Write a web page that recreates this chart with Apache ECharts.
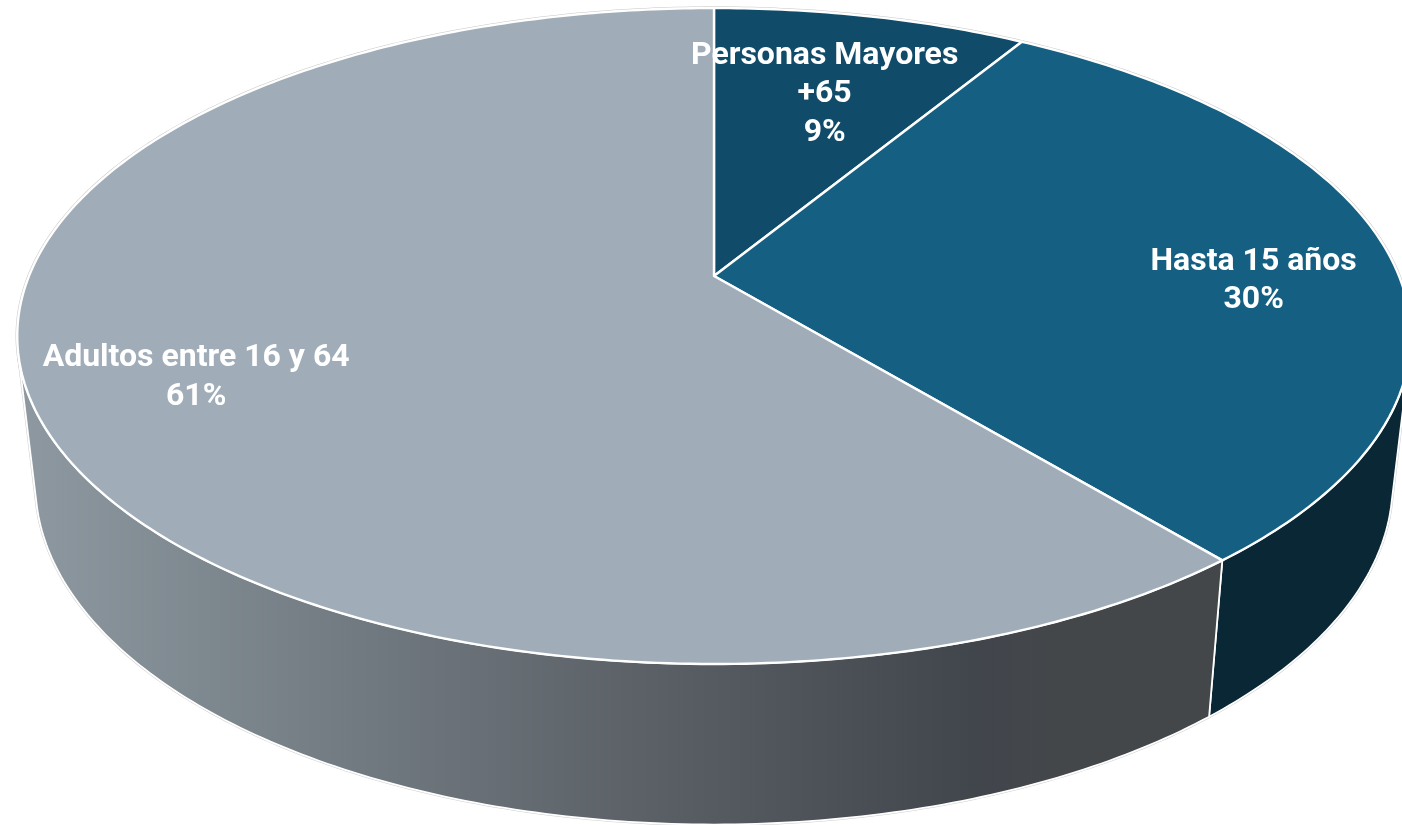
<!DOCTYPE html>
<html><head><meta charset="utf-8">
<style>html,body{margin:0;padding:0;background:#fff}#c{width:1402px;height:825px}</style>
<script src="https://cdn.jsdelivr.net/npm/echarts@6/dist/echarts.min.js"></script>
</head><body><div id="c"></div>
<script>
const categories = ['Personas Mayores\n+65', 'Hasta 15 años', 'Adultos entre 16 y 64'];
const values = [8.7, 30.3, 61];
const percentLabels = ['9%', '30%', '61%'];
const topColors = ['#104c69', '#156082', '#a0adb8'];
const labelRadial = [0.669, 0.786, 0.775];
const labelTurn = [0, 5.1, -3];

// perspective view of the pie
const view = {cx: 714, cy: 276, a: 685, b: 317, k: 0.183, sx: 0.974, sy: 1.04, drop: 145};
const rad = d => d * Math.PI / 180;
function rim(deg, r) {
  r = r === undefined ? 1 : r;
  const u = r * Math.sin(rad(deg)), v = -r * Math.cos(rad(deg));
  const w = 1 - view.k * v;
  return [view.cx + view.a * u / w, view.cy + view.b * v / w];
}
function base(deg) {
  const p = rim(deg);
  return [view.cx + view.sx * (p[0] - view.cx), view.cy + view.drop + view.sy * (p[1] - view.cy)];
}
function arc(fn, from, to) {
  const n = Math.max(2, Math.ceil(Math.abs(to - from) / 0.75)), out = [];
  for (let i = 0; i <= n; i++) out.push(fn(from + (to - from) * i / n));
  return out;
}
// angle at which the drop from upper to lower rim runs along the rim: the wall's visible end
function silhouette(start, end) {
  let best = Infinity, at = start;
  for (let d = start; d <= end; d += 0.1) {
    const a = rim(d), b = base(d), n = rim(d + 0.1);
    const dx = b[0] - a[0], dy = b[1] - a[1], tx = n[0] - a[0], ty = n[1] - a[1];
    const c = Math.abs(dx * ty - dy * tx) / (Math.hypot(dx, dy) * Math.hypot(tx, ty));
    if (c < best) { best = c; at = d; }
  }
  return at;
}
const rightEnd = silhouette(60, 130), leftEnd = silhouette(230, 300);

const total = values.reduce((s, x) => s + x, 0);
const starts = [];
values.reduce((acc, x, i) => { starts[i] = acc; return acc + x; }, 0);

const wallAdult = {type: 'linear', x: 15, y: 0, x2: 1215, y2: 0, global: true, colorStops: [
  {offset: 0, color: '#8e99a1'}, {offset: 0.25, color: '#757e85'}, {offset: 0.5, color: '#5d6369'},
  {offset: 0.8, color: '#41454c'}, {offset: 0.86, color: '#44474a'}, {offset: 1, color: '#44474a'}]};
const wallFills = [null, '#0a2735', wallAdult];

const chart = echarts.init(document.getElementById('c'));
chart.setOption({
  animation: false,
  series: [{
    type: 'custom',
    coordinateSystem: 'none',
    clip: false,
    silent: true,
    data: values.map(v => [v]),
    renderItem(params, api) {
      const i = params.dataIndex;
      const d0 = starts[i] / total * 360, d1 = (starts[i] + api.value(0)) / total * 360;
      const children = [];
      const from = Math.max(d0, rightEnd), to = Math.min(d1, leftEnd);
      if (to > from) {
        const pts = arc(rim, from, to).concat(arc(base, to, from));
        children.push({type: 'polygon', z2: 0, shape: {points: pts},
          style: {fill: 'none', stroke: '#cfcfcf', lineWidth: 2.8, lineJoin: 'round'}});
        children.push({type: 'polygon', z2: 1, shape: {points: pts},
          style: {fill: wallFills[i], stroke: '#fff', lineWidth: 1.8, lineJoin: 'round'}});
      }
      const edge = arc(rim, d0, d1);
      children.push({type: 'polyline', z2: 0, shape: {points: edge},
        style: {fill: 'none', stroke: '#c8c8c8', lineWidth: 3.4}});
      children.push({type: 'polygon', z2: 2, shape: {points: [rim(0, 0)].concat(edge)},
        style: {fill: topColors[i], stroke: '#fff', lineWidth: 2.4, lineJoin: 'round'}});
      const p = rim((d0 + d1) / 2 + labelTurn[i], labelRadial[i]);
      children.push({type: 'text', z2: 3, x: p[0], y: p[1] + 1, style: {
        text: categories[i] + '\n' + percentLabels[i],
        fill: '#fff', font: 'bold 32px Roboto', lineHeight: 38.5,
        align: 'center', verticalAlign: 'middle'}});
      return {type: 'group', children};
    }
  }]
});
</script></body></html>
